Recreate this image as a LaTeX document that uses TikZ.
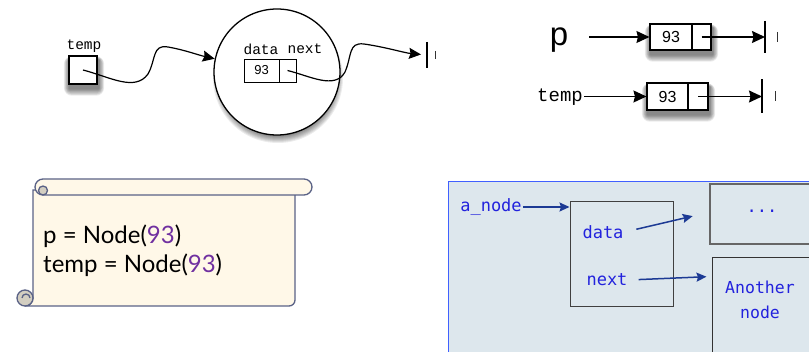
\documentclass[tikz,border=0pt]{standalone}
\usepackage{fontspec}
\setmainfont{Liberation Sans}
\newfontfamily\courierfont{Liberation Mono}
\newfontfamily\scrollfont{Lato}
\newfontfamily\panelfont{DejaVu Sans Mono}
\usetikzlibrary{arrows.meta,backgrounds}

\definecolor{scrollfill}{HTML}{FFF8E8}
\definecolor{scrolledge}{HTML}{5A6286}
\definecolor{curlfill}{HTML}{D3CEC1}
\definecolor{numpurple}{HTML}{7030A0}
\definecolor{panelfill}{HTML}{DDE7ED}
\definecolor{paneledge}{HTML}{4060FF}
\definecolor{paneltext}{HTML}{2222DD}
\definecolor{panelarrow}{HTML}{1C3A94}

\tikzset{
  cellbox/.style={draw=black, line width=1.1pt, fill=white, inner sep=0pt},
  blackarrow/.style={draw=black, line width=1.3pt,
      -{Stealth[length=13pt,width=12pt,inset=1.5pt]}},
  wavyarrow/.style={draw=black, line width=1.2pt,
      -{Stealth[length=12pt,width=11pt,inset=1.5pt]}},
  groundline/.style={draw=black, line width=1.4pt},
  shortground/.style={draw=black!80, line width=1pt},
  bluearrow/.style={draw=panelarrow, line width=1.5pt,
      -{Stealth[length=10pt,width=9pt,inset=1.5pt]}},
  paneltxt/.style={text=paneltext, font=\panelfont\fontsize{17}{20}\selectfont, inner sep=1pt},
  scrollline/.style={draw=scrolledge, line width=1.3pt},
  shadowlayer/.style={black, opacity=0.075},
}

% soft shadow under a rectangular node
\newcommand{\boxshade}[1]{%
  \foreach \r in {1,...,8}{%
    \fill[shadowlayer, rounded corners=\r pt]
      ([xshift=1pt-\r pt*0.7, yshift=-4pt+\r pt*0.4]#1.north west) rectangle
      ([xshift=1pt+\r pt*0.7, yshift=-4pt-\r pt*0.9]#1.south east);}}

\begin{document}
\begin{tikzpicture}[x=1pt,y=-1pt]
\useasboundingbox (0,0) rectangle (809,352);

% ---------- a single node drawn as a circle ----------
\node[cellbox, minimum width=28pt, minimum height=28pt] (tbox) at (83,70) {};
\node[font=\courierfont\fontsize{14.5}{16}\selectfont, inner sep=1pt] (tlabel) at (84,46) {temp};
\node[circle, draw=black, line width=1.3pt, fill=white, minimum size=126pt] (ring) at (277,72) {};
\node[cellbox, line width=0.9pt, minimum width=35pt, minimum height=23pt,
      font=\fontsize{13}{15}\selectfont] (cdata) at (261.5,70.5) {93};
\node[cellbox, line width=0.9pt, minimum width=17pt, minimum height=23pt] (cnext) at (287.5,70.5) {};
\node[font=\courierfont\fontsize{14.5}{16}\selectfont, inner sep=1pt] (ldata) at (261,49) {data};
\node[font=\courierfont\fontsize{14.5}{16}\selectfont, inner sep=1pt] (lnext) at (305,49) {next};
\coordinate (g0) at (427,55);

\draw[wavyarrow] (tbox.center) .. controls (110,77) and (135,92) .. (148,74)
   .. controls (156,60) and (152,44) .. (168,47)
   .. controls (185,50) and (198,55) .. (ring.168);
\draw[wavyarrow, shorten >=6pt] (cnext.center) .. controls (310,76) and (335,90) .. (345,72)
   .. controls (352,56) and (348,42) .. (364,44)
   .. controls (385,47) and (405,53) .. (g0);
\draw[groundline] ([yshift=13pt]g0) -- ([yshift=-13pt]g0);
\draw[shortground] ([xshift=8pt,yshift=4pt]g0) -- ([xshift=8pt,yshift=-4pt]g0);

% ---------- two variables, two separate nodes ----------
\node[font=\fontsize{33}{36}\selectfont, inner sep=1pt] (plabel) at (559,40) {p};
\node[cellbox, minimum width=61pt, minimum height=26pt] (b1) at (680.5,37) {};
\node[cellbox, minimum width=42pt, minimum height=26pt,
      font=\fontsize{16}{18}\selectfont] (b1a) at (671,37) {93};
\node[cellbox, minimum width=19pt, minimum height=26pt] (b1b) at (701.5,37) {};
\coordinate (g1) at (765,37);
\draw[blackarrow, shorten <=20pt] (plabel.east |- b1a.west) -- (b1a.west);
\draw[blackarrow] (b1b.center) -- (g1);
\draw[groundline] ([yshift=16pt]g1) -- ([yshift=-16pt]g1);
\draw[shortground] ([xshift=12pt,yshift=5pt]g1) -- ([xshift=12pt,yshift=-5pt]g1);

\node[font=\courierfont\fontsize{19}{21}\selectfont, inner sep=1pt] (t2label) at (560,97) {temp};
\node[cellbox, minimum width=61pt, minimum height=27pt] (b2) at (677.5,96.5) {};
\node[cellbox, minimum width=41pt, minimum height=27pt,
      font=\fontsize{16}{18}\selectfont] (b2a) at (667.5,96.5) {93};
\node[cellbox, minimum width=20pt, minimum height=27pt] (b2b) at (698,96.5) {};
\coordinate (g2) at (762,96.5);
\draw[blackarrow] (t2label.east |- b2a.west) -- (b2a.west);
\draw[blackarrow] (b2b.center) -- (g2);
\draw[groundline] ([yshift=17pt]g2) -- ([yshift=-17pt]g2);
\draw[shortground] ([xshift=13pt,yshift=5pt]g2) -- ([xshift=13pt,yshift=-5pt]g2);

% soft drop shadows behind the boxes and the circle
\begin{scope}[on background layer]
  \boxshade{tbox}
  \boxshade{b1}
  \boxshade{b2}
  \foreach \r in {1,...,9}
    \fill[shadowlayer] ([yshift=-6pt, xshift=1pt]ring.center) circle[radius=56pt+\r pt];
\end{scope}

% ---------- code scroll ----------
\filldraw[scrollline, fill=scrollfill] (33,190) -- (33,298)
   arc[start angle=0, end angle=90, radius=8] -- (289,306)
   arc[start angle=90, end angle=0, radius=6] -- (295,190) -- cycle;
\filldraw[scrollline, fill=scrollfill, rounded corners=8pt] (35,179) rectangle (312,195);
\filldraw[scrollline, fill=curlfill] (43,190.5) circle[radius=4.5];
\filldraw[scrollline, fill=curlfill] (25,298) circle[radius=8];
\draw[scrollline] (30,298) arc[start angle=0, end angle=-180, radius=4];
\node[anchor=west, font=\scrollfont\fontsize{24}{27}\selectfont, inner sep=0pt]
   (code1) at (43,236) {p = Node(\textcolor{numpurple}{93})};
\node[anchor=west, font=\scrollfont\fontsize{24}{27}\selectfont, inner sep=0pt]
   (code2) at (43,265) {temp = Node(\textcolor{numpurple}{93})};

% ---------- node structure panel ----------
\filldraw[draw=paneledge, line width=0.8pt, fill=panelfill] (448,181) rectangle (816,360);
\node[draw=black!75, line width=1pt, minimum width=103pt, minimum height=105pt, inner sep=0pt]
   (mid) at (621.5,254.5) {};
\node[draw=black!60, line width=1.5pt, minimum width=110pt, minimum height=60pt, inner sep=0pt]
   (dots) at (765,214) {};
\node[draw=black!80, line width=1pt, minimum width=110pt, minimum height=104pt, inner sep=0pt]
   (anotherbox) at (767,310) {};
\node[paneltxt] (anode) at (491,207) {a\_node};
\node[paneltxt] (dat) at (603,232) {data};
\node[paneltxt] (nxt) at (607,280) {next};
\node[paneltxt] (dotstxt) at (762,211) {...};
\node[paneltxt, align=center, font=\panelfont\fontsize{16.5}{25}\selectfont] (anothertxt) at (760,300) {Another\\node};

\draw[bluearrow] (anode.east) -- (anode.east -| mid.west);
\draw[bluearrow, shorten <=12pt, shorten >=17pt] (dat.east) -- ([yshift=-29pt]dots.north west);
\draw[bluearrow, shorten <=10pt, shorten >=5pt] (nxt.east) -- ([yshift=-19pt]anotherbox.north west);
\end{tikzpicture}
\end{document}
